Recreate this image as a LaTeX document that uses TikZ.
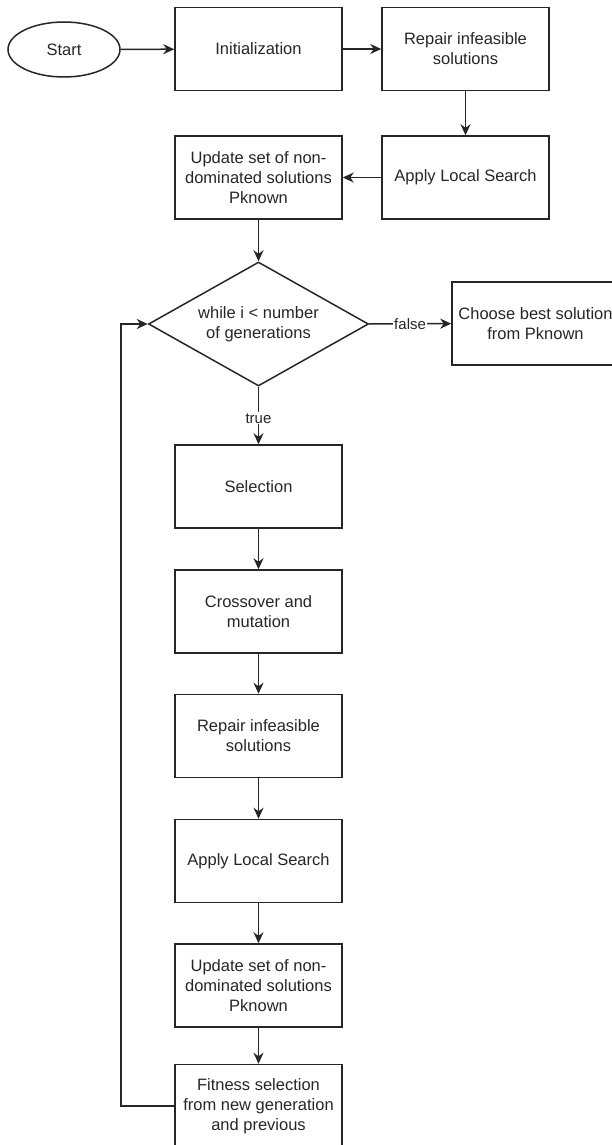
\documentclass[tikz,border=0pt]{standalone}
\usepackage{fontspec}
\setmainfont{Liberation Sans}
\usetikzlibrary{shapes.geometric,arrows.meta}
\begin{document}
\begin{tikzpicture}[x=1pt,y=-1pt,
  line width=1.5pt, draw=black!85, text=black!85,
  every node/.style={font=\fontsize{16.5}{20}\selectfont},
  stepbox/.style={draw, rectangle, minimum width=167pt, minimum height=83pt, align=center, inner sep=2pt},
  startbox/.style={draw, ellipse, minimum width=112pt, minimum height=55pt},
  testbox/.style={draw, diamond, minimum width=220pt, minimum height=124pt, inner sep=0pt, aspect=1.77, align=center},
  flow/.style={-{Stealth[length=11pt,width=10pt,inset=3.5pt]}},
  edgelabel/.style={fill=white, inner sep=1pt, font=\fontsize{15}{17}\selectfont}]
\useasboundingbox (0,0) rectangle (611,1145);
% first part
\node[startbox] (start) at (64,49.5) {Start};
\node[stepbox] (init) at (258.5,49) {Initialization};
\node[stepbox] (repairA) at (465.5,49) {Repair infeasible\\solutions};
\node[stepbox] (searchA) at (465.5,177.5) {Apply Local Search};
\node[stepbox] (updateA) at (258.5,177.5) {Update set of non-\\dominated solutions\\Pknown};
% loop
\node[testbox] (cond) at (258.5,324) {while i {<} number\\of generations};
\node[stepbox] (choose) at (535.5,323.5) {Choose best solution\\from Pknown};
\node[stepbox] (sel) at (258.5,486.5) {Selection};
\node[stepbox] (cross) at (258.5,611.5) {Crossover and\\mutation};
\node[stepbox] (repairB) at (258.5,736) {Repair infeasible\\solutions};
\node[stepbox] (searchB) at (258.5,861) {Apply Local Search};
\node[stepbox] (updateB) at (258.5,985.5) {Update set of non-\\dominated solutions\\Pknown};
\node[stepbox] (fit) at (258.5,1106) {Fitness selection\\from new generation\\and previous};
\coordinate (back) at (121,1106);
% connectors
\draw[flow] (start) -- (init);
\draw[flow] (init) -- (repairA);
\draw[flow] (repairA) -- (searchA);
\draw[flow] (searchA) -- (updateA);
\draw[flow] (updateA) -- (cond);
\draw[flow] (cond) -- node[edgelabel]{false} (choose);
\draw[flow] (cond) -- node[edgelabel, pos=0.55]{true} (sel);
\draw[flow] (sel) -- (cross);
\draw[flow] (cross) -- (repairB);
\draw[flow] (repairB) -- (searchB);
\draw[flow] (searchB) -- (updateB);
\draw[flow] (updateB) -- (fit);
\draw[flow] (fit.west) -- (back) |- (cond.west);
\end{tikzpicture}
\end{document}
